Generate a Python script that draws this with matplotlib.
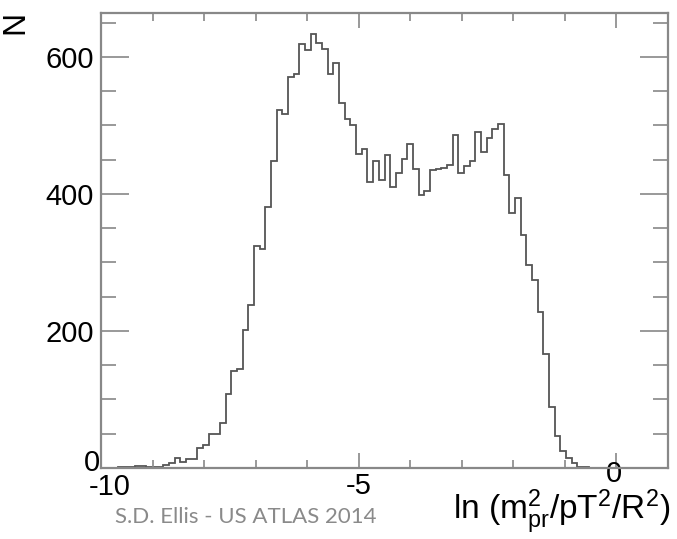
import numpy as np
import matplotlib
matplotlib.use("Agg")
import matplotlib.pyplot as plt
from matplotlib.transforms import ScaledTranslation

plt.rcParams['font.family'] = ['Liberation Sans', 'DejaVu Sans']
plt.rcParams['mathtext.fontset'] = 'custom'
plt.rcParams['mathtext.rm'] = 'Liberation Sans'
plt.rcParams['mathtext.it'] = 'Liberation Sans:italic'
plt.rcParams['mathtext.bf'] = 'Liberation Sans:bold'

# Histogram of ln(m_pr^2/pT^2/R^2): 100 bins from -10 to 1
bin_lo = -10.0
bin_hi = 1.0
counts = [
    0, 0, 0, 1, 1, 2, 3, 3, 2, 1,
    1, 5, 8, 14, 9, 13, 13, 29, 33, 49,
    49, 66, 108, 142, 145, 202, 238, 324, 320, 381,
    448, 522, 516, 570, 575, 619, 610, 633, 620, 612,
    575, 591, 532, 509, 501, 458, 465, 418, 448, 420,
    457, 410, 430, 451, 473, 437, 398, 404, 435, 436,
    438, 442, 486, 431, 440, 448, 490, 461, 482, 495,
    502, 427, 372, 394, 340, 296, 274, 227, 167, 89,
    47, 25, 14, 7, 1, 1, 0, 0, 0, 0,
    0, 0, 0, 0, 0, 0, 0, 0, 0, 0,
]
x_ticks = [-10, -5, 0]
x_ticklabels = ["-10", "-5", "0"]
y_ticks = [0, 200, 400, 600]
y_ticklabels = ["0", "200", "400", "600"]
x_label = r"ln (m$^2_{\rm pr}$/pT$^2$/R$^2$)"
y_label = "N"
credit = "S.D. Ellis - US ATLAS 2014"

edges = np.linspace(bin_lo, bin_hi, len(counts) + 1)

fig = plt.figure(figsize=(6.77, 5.39), dpi=100)
ax = fig.add_axes([101/677, 1 - 468/539, (668-101)/677, (468-13)/539])

ax.stairs(counts, edges, color="#555555", linewidth=1.3)

ax.set_xlim(-10, 1)
ax.set_ylim(0, 664)

for s in ax.spines.values():
    s.set_color("#888888")
    s.set_linewidth(1.6)

ax.set_xticks(x_ticks)
ax.set_xticklabels(x_ticklabels)
ax.set_xticks(np.arange(-9, 1, 1), minor=True)
ax.set_yticks(y_ticks)
ax.set_yticklabels(y_ticklabels)
ax.set_yticks(np.arange(50, 664, 50), minor=True)

ax.tick_params(axis="y", which="major", direction="in", length=20, width=1.2,
               color="#888888", left=True, right=True, labelsize=21, pad=5)
ax.tick_params(axis="y", which="minor", direction="in", length=11, width=1.2,
               color="#888888", left=True, right=True)
ax.tick_params(axis="x", which="major", direction="in", length=11, width=1.2,
               color="#888888", bottom=True, top=True, labelsize=21, pad=3)
ax.tick_params(axis="x", which="minor", direction="in", length=6, width=1.2,
               color="#888888", bottom=True, top=True)

# ROOT-like offsets for the zero labels
fig.canvas.draw()
ylabs = ax.get_yticklabels()
ylabs[0].set_transform(ylabs[0].get_transform() + ScaledTranslation(6/100, 8/100, fig.dpi_scale_trans))
xlabs = ax.get_xticklabels()
xlabs[0].set_transform(xlabs[0].get_transform() + ScaledTranslation(9/100, -1/100, fig.dpi_scale_trans))
xlabs[2].set_transform(xlabs[2].get_transform() + ScaledTranslation(-3/100, 12/100, fig.dpi_scale_trans))

fig.text(670/677, 1 - 512/539, x_label, ha="right", va="center", fontsize=24)
fig.text(15/677, 1 - 22/539, y_label, ha="center", va="center", rotation=90, fontsize=23)
fig.text(115/677, 1 - 517/539, credit, ha="left", va="center", fontsize=16,
         color="#8a8a8a", family="Lato")

fig.savefig("out.png", dpi=100)
